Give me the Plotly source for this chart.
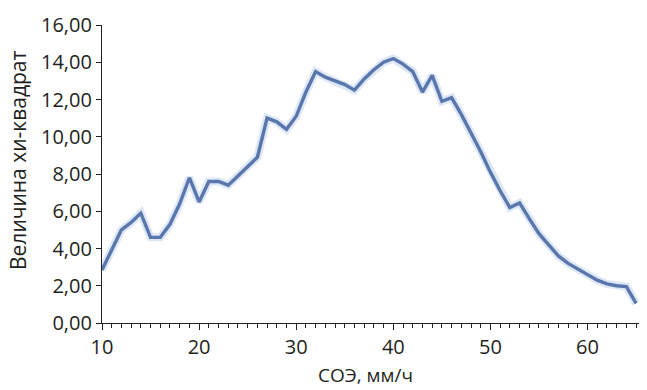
import plotly.graph_objects as go

esr = list(range(10, 66))
chi2 = [2.85, 3.9, 5.0, 5.4, 5.9, 4.6, 4.6, 5.3, 6.4, 7.8,
        6.5, 7.6, 7.6, 7.4, 7.9, 8.4, 8.9, 11.0, 10.8, 10.4,
        11.1, 12.4, 13.5, 13.2, 13.0, 12.8, 12.5, 13.1, 13.6, 14.0,
        14.2, 13.9, 13.5, 12.4, 13.3, 11.9, 12.1, 11.2, 10.2, 9.2,
        8.1, 7.1, 6.2, 6.45, 5.6, 4.8, 4.2, 3.6, 3.2, 2.9,
        2.55, 2.3, 2.1, 2.0, 1.95, 1.05]

x_ticks = [10, 20, 30, 40, 50, 60]
y_ticks = [0, 2, 4, 6, 8, 10, 12, 14, 16]
x_title = "СОЭ, мм/ч"
y_title = "Величина хи-квадрат"

fig = go.Figure()
fig.add_trace(go.Scatter(x=esr, y=chi2, mode="lines",
                         line=dict(color="rgba(120,160,220,0.25)", width=8),
                         hoverinfo="skip", showlegend=False))
fig.add_trace(go.Scatter(x=esr, y=chi2, mode="lines",
                         line=dict(color="#5a77ad", width=3.4),
                         showlegend=False))

font_family = "Open Sans, Noto Sans, sans-serif"
fig.update_layout(
    width=647, height=390,
    margin=dict(l=102, r=8, t=25, b=67),
    paper_bgcolor="white", plot_bgcolor="white",
    separators=", ",
    font=dict(family=font_family, size=20, color="#231f20"),
    xaxis=dict(
        range=[10, 65.3], tickvals=x_ticks, ticktext=[str(v) for v in x_ticks],
        showgrid=False, zeroline=False, showline=True, linecolor="#231f20", linewidth=1.2,
        ticks="outside", ticklen=6, tickwidth=1.2, tickcolor="#231f20",
        minor=dict(dtick=1, ticks="outside", ticklen=4, tickwidth=1, tickcolor="#231f20", showgrid=False),
        tickfont=dict(size=20),
    ),
    yaxis=dict(
        range=[0, 16], tickvals=y_ticks, tickformat=".2f",
        showgrid=False, zeroline=False, showline=True, linecolor="#231f20", linewidth=1.2,
        ticks="outside", ticklen=5, tickwidth=1.2, tickcolor="#231f20",
        tickfont=dict(size=20),
    ),
    annotations=[
        dict(text=x_title, xref="paper", yref="paper", x=(365 - 102) / 537, y=-(389 - 323) / 298,
             xanchor="center", yanchor="bottom", showarrow=False, font=dict(size=19),
             borderpad=0),
        dict(text=y_title, xref="paper", yref="paper", x=-(102 - 18) / 537, y=(323 - 161) / 298,
             xanchor="center", yanchor="middle", textangle=-90, showarrow=False, font=dict(size=21)),
    ],
)

fig.write_html("out.html")
